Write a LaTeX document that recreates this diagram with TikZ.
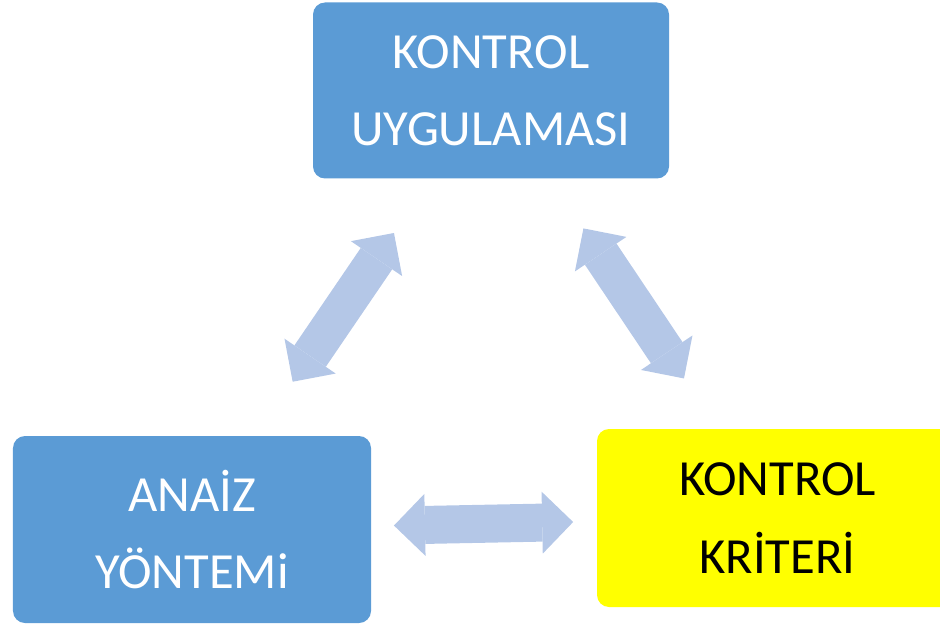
\documentclass[tikz,border=0pt]{standalone}
\usepackage{fontspec}
\setmainfont{Carlito}
\usetikzlibrary{arrows.meta,positioning}

\definecolor{boxblue}{HTML}{5B9BD5}
\definecolor{boxyellow}{HTML}{FFFF00}
\definecolor{linkblue}{HTML}{B4C7E7}

\begin{document}
\begin{tikzpicture}[>={Triangle[width=1.55cm,length=0.775cm,line width=0pt]},on grid,
    bluebox/.style={rectangle,rounded corners=0.3cm,fill=boxblue,text=white,align=center,font=\fontsize{36}{55}\selectfont},
    yellowbox/.style={bluebox,fill=boxyellow,text=black},
    link/.style={<->,line width=0.95cm,draw=linkblue}]
      \useasboundingbox (0,0) rectangle (23.5,-15.65);

      \node[bluebox,minimum width=8.9cm,minimum height=4.4cm] (uyg) at (12.275,-2.2625) {KONTROL\\UYGULAMASI};
      \node[bluebox,minimum width=8.95cm,minimum height=4.675cm] (analiz) [below left=10.975cm and 7.475cm of uyg] {ANAİZ\\YÖNTEMi};
      \node[yellowbox,minimum width=9.025cm,minimum height=4.45cm] (kriter) [below right=10.6875cm and 7.1625cm of uyg] {KONTROL\\KRİTERİ};

      \draw[link,shorten <=4.47cm,shorten >=4.31cm] (analiz.center) -- (uyg.center);
      \draw[link,shorten <=4.15cm,shorten >=4.2cm] (uyg.center) -- (kriter.center);
      \draw[link,shorten <=5.05cm,shorten >=5.11cm] (analiz.center) -- (kriter.center);
    \end{tikzpicture}
\end{document}
